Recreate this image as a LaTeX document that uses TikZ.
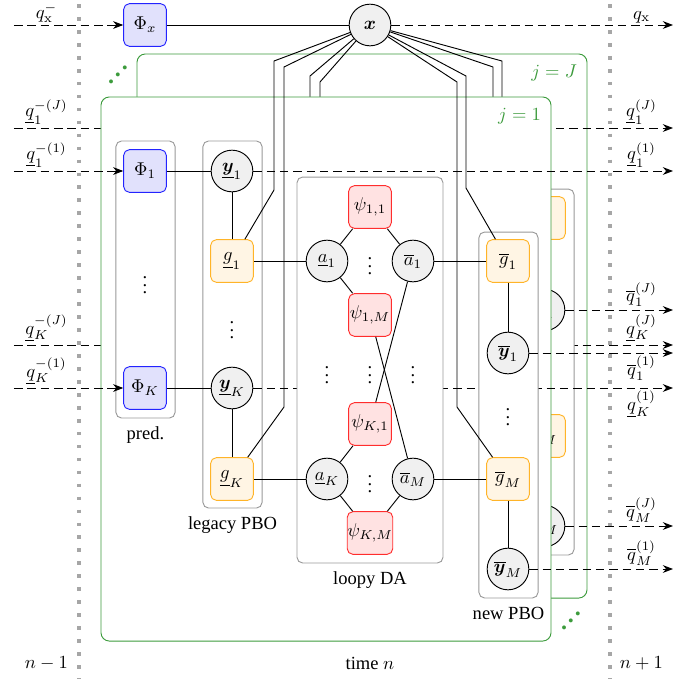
\documentclass[tikz,border=0pt]{standalone}
\usepackage{amsmath,amssymb}
\usepackage[no-math]{fontspec}
\setmainfont{Liberation Serif}
\usepackage{xcolor}
\usetikzlibrary{positioning,arrows.meta}

\definecolor{layergreen}{RGB}{60,155,60}
\definecolor{likorange}{RGB}{255,180,40}
\definecolor{likfill}{RGB}{255,245,228}
\definecolor{predblue}{RGB}{35,35,255}
\definecolor{predfill}{RGB}{225,225,252}
\definecolor{assocred}{RGB}{255,45,45}
\definecolor{assocfill}{RGB}{255,226,226}

\newcommand{\diagdots}{{\fontsize{13}{13}\selectfont\bfseries .\kern0.4pt\raisebox{3.8pt}{.}\kern0.4pt\raisebox{7.6pt}{.}}}

% one PBO/DA layer j=#1; #2,#3 / #4,#5: bend heights of the lines from x; #6: anchor of two output labels
\newcommand{\pbolayer}[6]{%
  \node[layer, minimum width=243pt, minimum height=293.8pt] (frame-#1) at (326,369) {};
  \node[text=layergreen, inner sep=0pt, below left=6pt and 5.5pt of frame-#1.north east] (jlbl-#1) {$j=#1$};
  % prediction
  \node[group, minimum width=31.9pt, minimum height=149.6pt] (predbox-#1) at (145.5,279.5) {};
  \node[pred] (Phi1-#1) at (145,171) {$\Phi_1$};
  \node (pdots-#1) at (145,280) {$\vdots$};
  \node[pred] (PhiK-#1) at (145,388) {$\Phi_K$};
  \coordinate (in1-#1) at (Phi1-#1 -| linestart);
  \coordinate (inK-#1) at (PhiK-#1 -| linestart);
  \draw[msg,->] (in1-#1) -- (Phi1-#1);
  \draw[msg,->] (inK-#1) -- (PhiK-#1);
  \node[qlbl, anchor=south] (qin1-#1) at (Phi1-#1 -| lblL) {$\underline{q}_1^{-(#1)}$};
  \node[qlbl, anchor=south] (qinK-#1) at (PhiK-#1 -| lblL) {$\underline{q}_K^{-(#1)}$};
  % legacy PBO
  \node[group, minimum width=31.9pt, minimum height=198.2pt] (legbox-#1) at (232.5,324.5) {};
  \node[var] (yl1-#1) at (232,171) {$\underline{\boldsymbol{y}}_1$};
  \node[lik] (gl1-#1) at (232,261) {$\underline{g}_1$};
  \node (ldots-#1) at (232,325) {$\vdots$};
  \node[var] (ylK-#1) at (232,388) {$\underline{\boldsymbol{y}}_K$};
  \node[lik] (glK-#1) at (232,479) {$\underline{g}_K$};
  \coordinate (out1-#1) at (yl1-#1 -| lineend);
  \coordinate (outK-#1) at (ylK-#1 -| lineend);
  \draw[msg,->] (yl1-#1) -- (out1-#1);
  \draw[msg,->] (ylK-#1) -- (outK-#1);
  \node[qlbl, anchor=south] (qout1-#1) at (yl1-#1 -| lblR) {$\underline{q}_1^{(#1)}$};
  \node[qlbl, anchor=#6] (qoutK-#1) at (ylK-#1 -| lblR) {$\underline{q}_K^{(#1)}$};
  % loopy DA
  \node[group, minimum width=78.8pt, minimum height=208.4pt] (dabox-#1) at (370,370) {};
  \node[assoc] (psi11-#1) at (370,207) {$\psi_{1,1}$};
  \node[assoc] (psi1M-#1) at (370,315) {$\psi_{1,M}$};
  \node[assoc] (psiK1-#1) at (370,424) {$\psi_{K,1}$};
  \node[assoc] (psiKM-#1) at (370,533) {$\psi_{K,M}$};
  \node[var] (al1-#1) at (327,261) {$\underline{a}_1$};
  \node[var] (au1-#1) at (413,261) {$\overline{a}_1$};
  \node[var] (alK-#1) at (327,479) {$\underline{a}_K$};
  \node[var] (auM-#1) at (413,479) {$\overline{a}_M$};
  \node (dadots1-#1) at (370,261) {$\vdots$};
  \node (dadots2-#1) at (370,479) {$\vdots$};
  \foreach \cx in {327,370,413}
    \node (darow\cx-#1) at (\cx,370) {$\vdots$};
  % new PBO
  \node[group, minimum width=31.9pt, minimum height=197.6pt] (newbox-#1) at (508.5,415) {};
  \node[lik] (gu1-#1) at (508,261) {$\overline{g}_1$};
  \node[var] (yu1-#1) at (508,353) {$\overline{\boldsymbol{y}}_1$};
  \node (ndots-#1) at (508,412) {$\vdots$};
  \node[lik] (guM-#1) at (508,479) {$\overline{g}_M$};
  \node[var] (yuM-#1) at (508,569) {$\overline{\boldsymbol{y}}_M$};
  \coordinate (outb1-#1) at (yu1-#1 -| lineend);
  \coordinate (outbM-#1) at (yuM-#1 -| lineend);
  \draw[msg,->] (yu1-#1) -- (outb1-#1);
  \draw[msg,->] (yuM-#1) -- (outbM-#1);
  \node[qlbl, anchor=#6] (qoutb1-#1) at (yu1-#1 -| lblR) {$\overline{q}_1^{(#1)}$};
  \node[qlbl, anchor=south] (qoutbM-#1) at (yuM-#1 -| lblR) {$\overline{q}_M^{(#1)}$};
  % factor graph edges
  \draw (Phi1-#1) -- (yl1-#1); \draw (PhiK-#1) -- (ylK-#1);
  \draw (yl1-#1) -- (gl1-#1); \draw (ylK-#1) -- (glK-#1);
  \draw (gl1-#1) -- (al1-#1); \draw (glK-#1) -- (alK-#1);
  \draw (al1-#1) -- (psi11-#1); \draw (psi11-#1) -- (au1-#1);
  \draw (al1-#1) -- (psi1M-#1); \draw (psi1M-#1) -- (auM-#1);
  \draw (au1-#1) -- (psiK1-#1); \draw (alK-#1) -- (psiK1-#1);
  \draw (alK-#1) -- (psiKM-#1); \draw (psiKM-#1) -- (auM-#1);
  \draw (au1-#1) -- (gu1-#1); \draw (auM-#1) -- (guM-#1);
  \draw (gu1-#1) -- (yu1-#1); \draw (guM-#1) -- (yuM-#1);
  % state to the PBO factors
  \draw (x) -- (274,#2) -- (274,190) -- (gl1-#1);
  \draw (x) -- (284,#3) -- (284,407) -- (glK-#1);
  \draw (x) -- (466,#4) -- (466,188) -- (gu1-#1);
  \draw (x) -- (457,#5) -- (457,407) -- (guM-#1);
}

\begin{document}
\begin{tikzpicture}[
  x=0.54pt, y=-0.54pt, line width=0.5pt,
  >={Stealth[length=5.5pt,width=4.2pt]},
  var/.style={circle, draw, fill=black!6, minimum size=22.5pt, inner sep=0pt},
  fac/.style={draw, rounded corners=3pt, minimum size=23pt, inner sep=0pt},
  pred/.style={fac, draw=predblue, fill=predfill},
  lik/.style={fac, draw=likorange, fill=likfill},
  assoc/.style={fac, draw=assocred, fill=assocfill},
  group/.style={draw=black!40, fill=white, rounded corners=3pt},
  layer/.style={draw=layergreen, fill=white, rounded corners=4.5pt},
  msg/.style={dash pattern=on 4.6pt off 2.6pt},
  qlbl/.style={inner sep=1.5pt},
  timeline/.style={black!35, line width=2pt, dash pattern=on 2pt off 5pt}]
\useasboundingbox (0,0) rectangle (699,679);
\coordinate (linestart) at (14,0);
\coordinate (lineend) at (673,0);
\coordinate (lblL) at (46.5,0);
\coordinate (lblR) at (641.5,0);
% time steps
\coordinate (prevtop) at (79,4); \coordinate (prevbot) at (79,679);
\coordinate (nexttop) at (610,4); \coordinate (nextbot) at (610,679);
\draw[timeline] (prevtop) -- (prevbot);
\draw[timeline] (nexttop) -- (nextbot);
\node (tprev) at (46.5,663) {$n-1$};
\node (tcur) at (370,663) {time $n$};
\node (tnext) at (641.5,663) {$n+1$};
% state
\node[pred] (Phix) at (145,25) {$\Phi_x$};
\node[var] (x) at (370,25) {$\boldsymbol{x}$};
\draw (Phix) -- (x);
\coordinate (qxin) at (Phix -| linestart);
\coordinate (qxout) at (x -| lineend);
\draw[msg,->] (qxin) -- (Phix);
\draw[msg,->] (x) -- (qxout);
\node[qlbl, anchor=south, inner sep=1pt] (qxinlbl) at (Phix -| lblL) {$q_{\mathrm{x}}^-$};
\node[qlbl, anchor=south, inner sep=1pt] (qxoutlbl) at (x -| lblR) {$q_{\mathrm{x}}$};
% layers j=J (back) and j=1 (front)
\begin{scope}[shift={(36,-43)}]
  \pbolayer{J}{119}{125}{104}{110}{south}
\end{scope}
\pbolayer{1}{61}{67}{76}{82}{north}
\node[below=1pt of predbox-1] (predlbl) {pred.};
\node[below=1pt of legbox-1] (leglbl) {legacy PBO};
\node[below=1pt of dabox-1] (dalbl) {loopy DA};
\node[below=1pt of newbox-1] (newlbl) {new PBO};
\node[text=layergreen] (moreTL) at (118,75) {\diagdots};
\node[text=layergreen] (moreBR) at (571,621) {\diagdots};
\end{tikzpicture}
\end{document}
